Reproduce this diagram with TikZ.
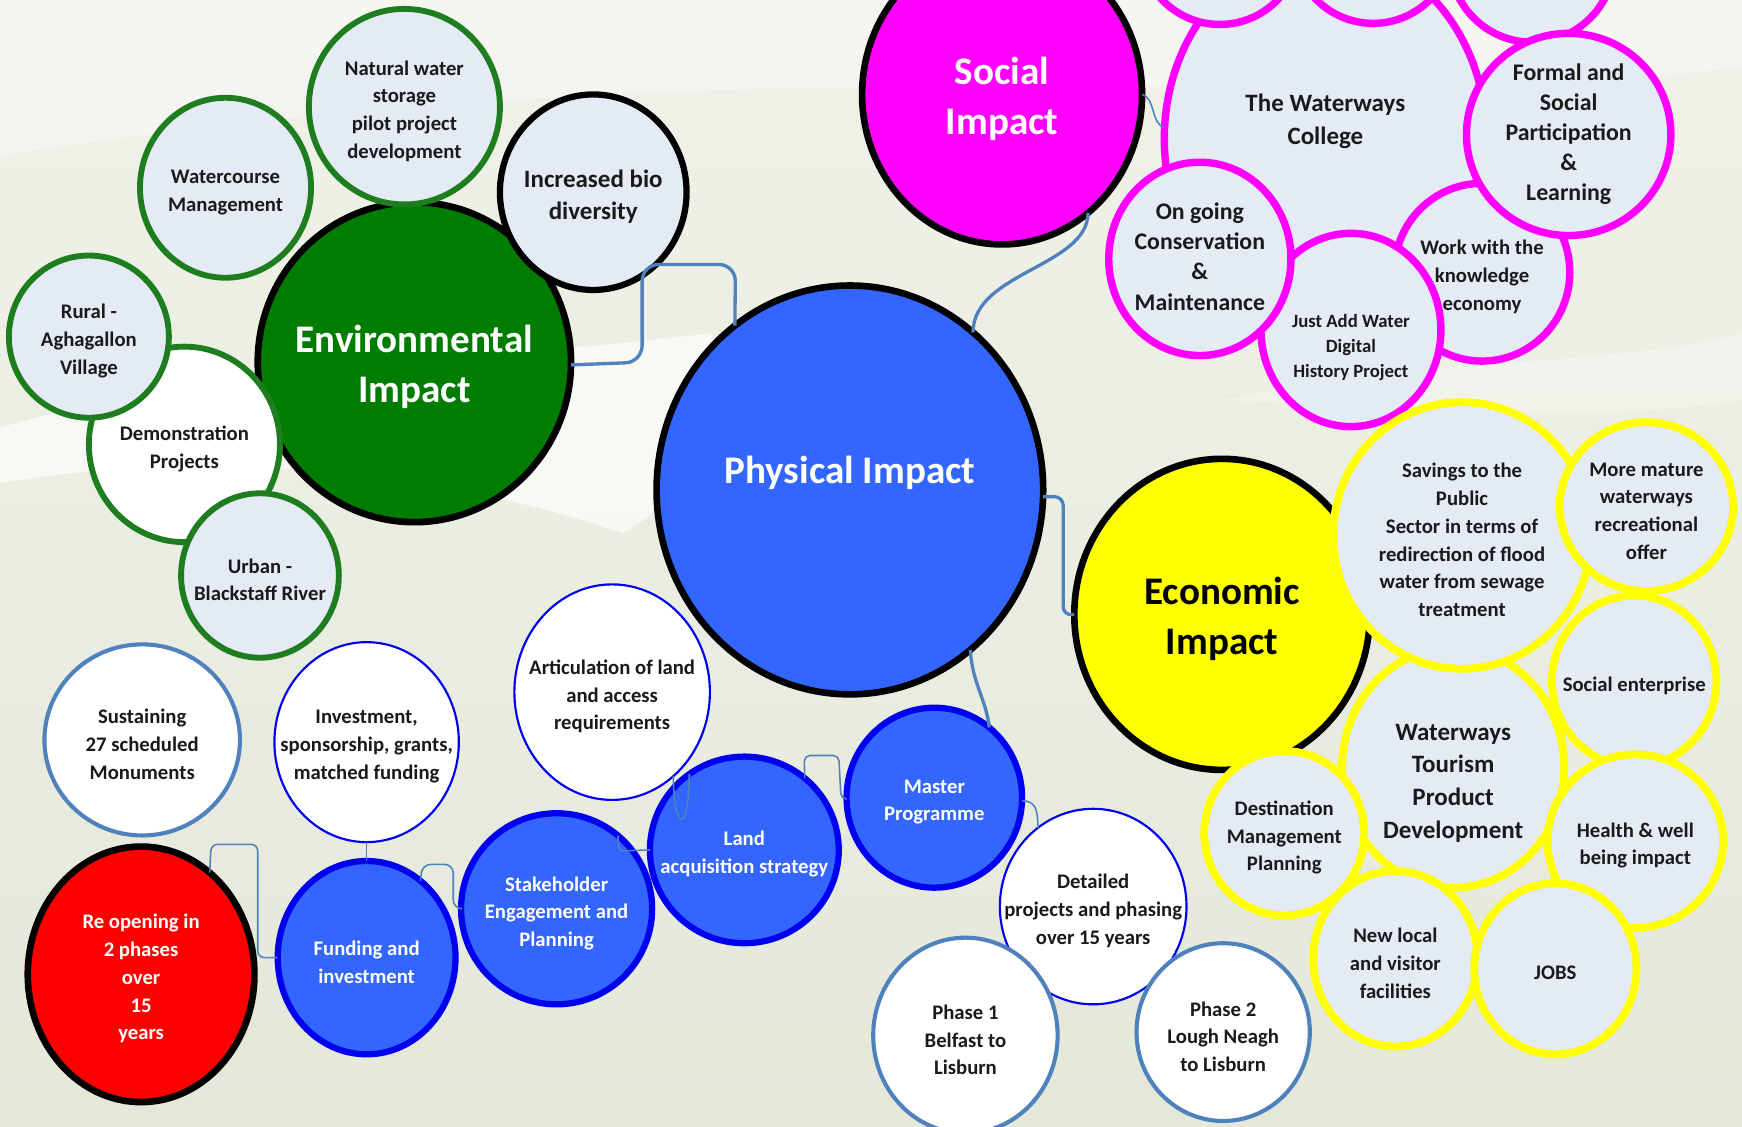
\documentclass[tikz,border=0pt]{standalone}
\usepackage{fontspec}
\setmainfont{Carlito}
\usetikzlibrary{shapes.geometric}
\definecolor{bgA}{HTML}{F0F2E9}
\definecolor{bgB}{HTML}{E4E8D9}
\definecolor{physblue}{HTML}{3366FF}
\definecolor{pureblue}{HTML}{0000F0}
\definecolor{envgreen}{HTML}{007D00}
\definecolor{grnbd}{HTML}{1E7D1E}
\definecolor{lightf}{HTML}{E5EBF5}
\definecolor{magc}{HTML}{FF00FF}
\definecolor{yelc}{HTML}{FFFF00}
\definecolor{redc}{HTML}{FF0000}
\definecolor{steel}{HTML}{4F81BD}
\definecolor{txtdark}{HTML}{1A1A1A}
\newcommand\myBig{\fontsize{10}{12.7}\selectfont\bfseries}
\newcommand\myMid{\fontsize{6.4}{8.4}\selectfont\bfseries}
\newcommand\myMidB{\fontsize{6.1}{7.7}\selectfont\bfseries}
\newcommand\mySm{\fontsize{5.3}{7.1}\selectfont\bfseries}
\newcommand\myXs{\fontsize{4.8}{6.4}\selectfont\bfseries}
\begin{document}
\begin{tikzpicture}[x=0.01cm,y=-0.01cm,
  bub/.style={ellipse, inner sep=0pt, outer sep=0pt},
  sz/.style 2 args={minimum width={2*#1*0.01cm}, minimum height={2*#2*0.01cm}},
  lbl/.style={align=center, inner sep=0pt, font=\mySm, text=txtdark, yshift=-0.04cm},
  bigblk/.style={bub, draw=black, line width=1.7pt},
  grnb/.style={bub, draw=grnbd, line width=1.5pt, fill=lightf},
  magb/.style={bub, draw=magc, line width=1.9pt, fill=lightf},
  yelb/.style={bub, draw=yelc, line width=2pt, fill=lightf},
  bblue/.style={bub, draw=pureblue, line width=1.6pt, fill=physblue},
  tblue/.style={bub, draw=pureblue, line width=0.55pt, fill=white},
  sblue/.style={bub, draw=steel, line width=1.05pt, fill=white},
  conn/.style={draw=steel, line width=0.85pt},
  thinc/.style={draw=steel, line width=0.4pt}
]
\useasboundingbox (0,0) rectangle (1568,1014);
% background
\shade[top color=bgA, bottom color=bgB] (0,0) rectangle (1568,1014);
\fill[white, opacity=0.35] (0,0) -- (1568,0) -- (1568,60) .. controls (1200,110) and (700,30) .. (0,140) -- cycle;
\fill[white, opacity=0.65] (0,385) .. controls (150,340) and (380,330) .. (640,300) .. controls (660,360) and (620,450) .. (560,480) .. controls (420,430) and (200,400) .. (0,435) -- cycle;
\fill[white, opacity=0.3] (1100,360) .. controls (1300,320) and (1450,330) .. (1568,300) -- (1568,360) .. controls (1450,380) and (1300,370) .. (1100,360) -- cycle;

\coordinate (eA) at (578,326);
\coordinate (eB) at (578,238);
\coordinate (eC) at (662,238);
\coordinate (pA) at (957,447);
\coordinate (pB) at (957,554);

% ---------------- green group ----------------
\node[bigblk, fill=envgreen, sz={141}{144},
  label={[lbl,font=\myBig,text=white]center:Environmental\\Impact}] (env) at (373,326) {};
\node[grnb, fill=white, sz={86}{88},
  label={[lbl]center:Demonstration\\Projects}] (demo) at (166,400) {};
\node[grnb, sz={72}{73},
  label={[lbl]center:Rural -\\Aghagallon\\Village}] (rural) at (80,303) {};
\node[grnb, sz={71}{74},
  label={[lbl]center:Urban -\\Blackstaff River}] (urban) at (234,518) {};
\node[grnb, sz={77}{81},
  label={[lbl]center:Watercourse\\Management}] (water) at (203,169) {};
\node[grnb, sz={86}{88},
  label={[lbl]center:Natural water\\storage\\pilot project\\development}] (natural) at (364,96) {};
\node[bub, draw=black, line width=1.6pt, fill=lightf, sz={84}{88},
  label={[lbl,font=\myMid]center:Increased bio\\diversity}] (bio) at (534,173) {};

% ---------------- physical ----------------
\node[bigblk, fill=physblue, sz={174}{184},
  label={[lbl,font=\myBig,text=white,yshift=0.19cm]center:Physical Impact}] (phys) at (765,441) {};

% ---------------- social group ----------------
\node[bigblk, fill=magc, sz={126}{135},
  label={[lbl,font=\myBig,text=white]center:Social\\Impact}] (soc) at (902,85) {};
\node[magb, sz={145}{170},
  label={[lbl,font=\myMid,yshift=0.2cm]center:The Waterways\\College}] (college) at (1193,125) {};
\node[magb, sz={72}{72}] (topA) at (1098,-50) {};
\node[magb, sz={72}{72}] (topB) at (1236,-51) {};
\node[magb, sz={74}{74}] (topC) at (1379,-36) {};
\node[magb, sz={79}{80},
  label={[lbl]center:Work with the\\knowledge\\economy}] (work) at (1334,245) {};
\node[magb, sz={92}{91},
  label={[lbl,font=\myMidB,yshift=0.04cm]center:Formal and\\Social\\Participation\\\&\\Learning}] (formal) at (1412,121) {};
\node[magb, sz={81}{87},
  label={[lbl,font=\myXs,yshift=-0.12cm]center:Just Add Water\\Digital\\History Project}] (jaw) at (1216,297) {};
\node[magb, sz={82}{87},
  label={[lbl,font=\myMidB,yshift=0.06cm]center:On going\\Conservation\\\&\\Maintenance}] (ongoing) at (1080,233) {};

% ---------------- economic group ----------------
\node[bigblk, fill=yelc, sz={133}{140},
  label={[lbl,font=\myBig,text=black]center:Economic\\Impact}] (econ) at (1100,553) {};
\node[yelb, sz={100}{108},
  label={[lbl,font=\myMid,yshift=-0.1cm]center:Waterways\\Tourism\\Product\\Development}] (tourism) at (1308,691) {};
\node[yelb, sz={74}{77},
  label={[lbl]center:Social enterprise}] (socent) at (1471,613) {};
\node[yelb, sz={79}{78},
  label={[lbl]center:Health \& well\\being impact}] (health) at (1472,757) {};
\node[yelb, sz={116}{120},
  label={[lbl]center:Savings to the\\Public\\Sector in terms of\\redirection of flood\\water from sewage\\treatment}] (savings) at (1316,482) {};
\node[yelb, sz={78}{76},
  label={[lbl]center:More mature\\waterways\\recreational\\offer}] (mature) at (1482,456) {};
\node[yelb, sz={72}{74},
  label={[lbl]center:Destination\\Management\\Planning}] (dest) at (1156,750) {};
\node[yelb, sz={74}{79},
  label={[lbl]center:New local\\and visitor\\facilities}] (newlocal) at (1256,863) {};
\node[yelb, sz={73}{77},
  label={[lbl]center:JOBS}] (jobs) at (1400,872) {};

% ---------------- bottom chain ----------------
\node[tblue, sz={88}{97},
  label={[lbl]center:Articulation of land\\and access\\requirements}] (artic) at (551,623) {};
\node[tblue, sz={83}{90},
  label={[lbl]center:{Investment,\\sponsorship, grants,\\matched funding}}] (invest) at (330,668) {};
\node[sblue, sz={88}{86},
  label={[lbl]center:Sustaining\\27 scheduled\\Monuments}] (sustain) at (128,666) {};
\node[bub, draw=black, line width=1.7pt, fill=redc, sz={102}{115},
  label={[lbl,text=white]center:Re opening in\\2 phases\\over\\15\\years}] (reopen) at (127,877) {};
\node[bblue, sz={80}{87},
  label={[lbl,text=white]center:Funding and\\investment}] (fund) at (330,862) {};
\node[bblue, sz={86}{86},
  label={[lbl,text=white]center:Stakeholder\\Engagement and\\Planning}] (stake) at (501,818) {};
\node[bblue, sz={85}{84},
  label={[lbl,text=white]center:Land\\acquisition strategy}] (land) at (670,765) {};
\node[bblue, sz={79}{81},
  label={[lbl,text=white]center:Master\\Programme}] (master) at (841,718) {};
\node[tblue, sz={84}{88},
  label={[lbl]center:Detailed\\projects and phasing\\over 15 years}] (det) at (984,816) {};
\node[sblue, sz={83}{88},
  label={[lbl]center:Phase 1\\Belfast to\\Lisburn}] (ph1) at (869,932) {};
\node[sblue, sz={78}{80},
  label={[lbl]center:Phase 2\\Lough Neagh\\to Lisburn}] (ph2) at (1101,929) {};

% ---------------- connectors ----------------
\draw[conn, rounded corners=0.15cm] (env.-1) -- (eA) -- (eB) -- (eC) -- (phys.125);
\draw[conn] (soc.-54) .. controls (979,240) and (876,245) .. (phys.52);
\draw[thinc] (soc.0) .. controls (1040,88) and (1036,112) .. (college.176);
\draw[conn, rounded corners=0.08cm] (phys.-2) -- (pA) -- (pB) -- (econ.west);
\draw[conn] (phys.-53) .. controls (875,615) and (888,630) .. (master.52);
\draw[thinc, rounded corners=0.05cm] (master.181) -- (757,719) -- (755,680) -- (724,680) -- (land.50);
\draw[thinc] (artic.-54) .. controls (607,751) and (620,751) .. (land.126);
\draw[thinc, rounded corners=0.04cm] (stake.50) -- (557,766) -- (land.west);
\draw[thinc, rounded corners=0.08cm] (fund.55) -- (380,778) -- (408,778) -- (408,818) -- (stake.west);
\draw[thinc] (fund.north) -- (invest.south);
\draw[thinc, rounded corners=0.06cm] (reopen.56) -- (190,760) -- (232,760) -- (232,862) -- (fund.west);
\draw[thinc] (master.-2) .. controls (932,721) and (934,728) .. (det.125);
\end{tikzpicture}
\end{document}
